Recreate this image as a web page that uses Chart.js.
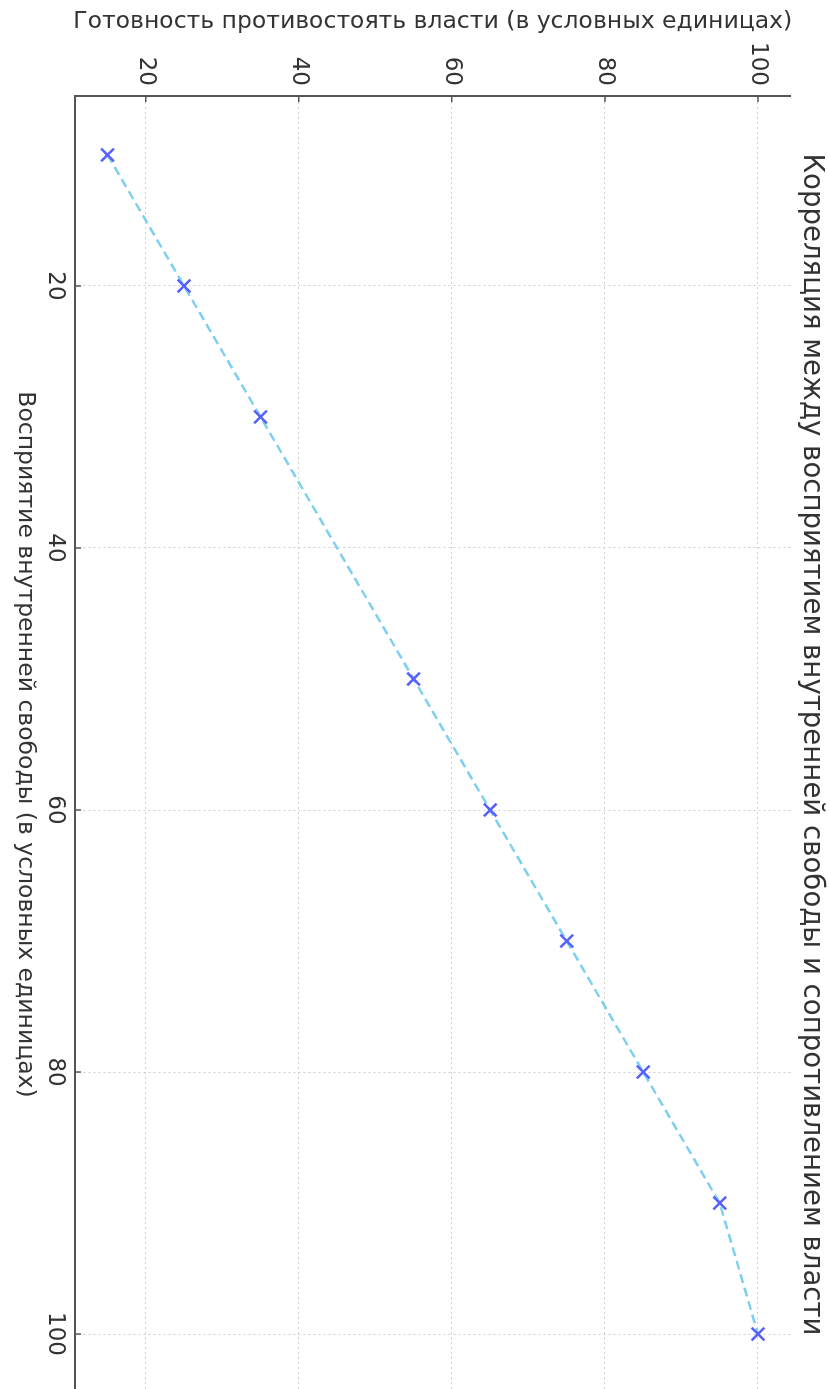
<!DOCTYPE html>
<html lang="ru">
<head>
<meta charset="utf-8">
<title>Корреляция</title>
<script src="https://cdn.jsdelivr.net/npm/chart.js@4/dist/chart.umd.min.js"></script>
<style>
    html, body { margin: 0; padding: 0; background: #fff; overflow: hidden; }
    body { width: 829px; height: 1389px; position: relative; }
    /* the reference is the matplotlib figure turned a quarter clockwise,
       cropped a few pixels before the far end of the x axis */
    #wrap {
        position: absolute; left: 0; top: 0;
        width: 1400px; height: 829px;
        transform-origin: 0 0;
        transform: translateX(829px) rotate(90deg);
    }
</style>
</head>
<body>
<div id="wrap"><canvas id="corr" width="1400" height="829"></canvas></div>
<script>
// ─── Data ─────────────────────────────────────────────

const PERCEPTION = [10, 20, 30, 50, 60, 70, 80, 90, 100];
const READINESS  = [15, 25, 35, 55, 65, 75, 85, 95, 100];
const X_TICKS    = [20, 40, 60, 80, 100];
const Y_TICKS    = [20, 40, 60, 80, 100];

const TITLE   = 'Корреляция между восприятием внутренней свободы и сопротивлением власти';
const X_LABEL = 'Восприятие внутренней свободы (в условных единицах)';
const Y_LABEL = 'Готовность противостоять власти (в условных единицах)';

// ─── Style ────────────────────────────────────────────

const FONT  = "'DejaVu Sans', sans-serif";
const SPINE = '#555';
const TEXT  = '#333';
const GRID  = '#cfcfcf';

// matplotlib-like inward tick marks
const inwardTicks = {
    id: 'inwardTicks',
    afterDraw(chart) {
        const { ctx, chartArea: a, scales: { x, y } } = chart;
        ctx.save();
        ctx.strokeStyle = SPINE;
        ctx.lineWidth = 1.5;
        ctx.beginPath();
        X_TICKS.forEach(v => {
            const px = x.getPixelForValue(v);
            ctx.moveTo(px, a.bottom);
            ctx.lineTo(px, a.bottom - 6);
        });
        Y_TICKS.forEach(v => {
            const py = y.getPixelForValue(v);
            ctx.moveTo(a.left, py);
            ctx.lineTo(a.left + 6, py);
        });
        ctx.stroke();
        ctx.restore();
    },
};

const points = PERCEPTION.map((v, i) => ({ x: v, y: READINESS[i] }));

new Chart(document.getElementById('corr').getContext('2d'), {
    type: 'line',
    data: {
        datasets: [{
            data: points,
            borderColor: '#7fcff0',
            borderWidth: 2.5,
            borderDash: [9, 5],
            pointStyle: 'crossRot',
            pointRadius: 9,
            pointBorderWidth: 2.5,
            pointBorderColor: '#5560ff',
            pointBackgroundColor: '#5560ff',
            tension: 0,
        }],
    },
    options: {
        responsive: false,
        animation: false,
        layout: { autoPadding: false, padding: { left: 0, right: 7, top: 0, bottom: 0 } },
        plugins: {
            legend: { display: false },
            tooltip: { enabled: false },
            title: {
                display: true,
                fullSize: false,
                text: TITLE,
                color: TEXT,
                font: { family: FONT, size: 27.6, weight: 'normal' },
                padding: { top: 1, bottom: 4.4 },
            },
        },
        scales: {
            x: {
                type: 'linear',
                min: 5.5,
                max: 104.5,
                afterBuildTicks: s => { s.ticks = X_TICKS.map(v => ({ value: v })); },
                afterFit: s => { s.height = 75; s.paddingLeft = 0; s.paddingRight = 0; },
                ticks: { color: TEXT, font: { family: FONT, size: 23 }, padding: 6, maxRotation: 0 },
                grid: { color: GRID, lineWidth: 1, drawTicks: false },
                border: { display: true, color: SPINE, width: 2, dash: [2, 3] },
                title: {
                    display: true,
                    text: X_LABEL,
                    color: TEXT,
                    font: { family: FONT, size: 23.5 },
                    padding: { top: 0, bottom: 11 },
                },
            },
            y: {
                type: 'linear',
                min: 10.75,
                max: 104.25,
                afterBuildTicks: s => { s.ticks = Y_TICKS.map(v => ({ value: v })); },
                afterFit: s => { s.width = 96; s.paddingTop = 0; s.paddingBottom = 0; },
                ticks: { color: TEXT, font: { family: FONT, size: 23 }, padding: 10 },
                grid: { color: GRID, lineWidth: 1, drawTicks: false },
                border: { display: true, color: SPINE, width: 2, dash: [2, 3] },
                title: {
                    display: true,
                    text: Y_LABEL,
                    color: TEXT,
                    font: { family: FONT, size: 23.5 },
                    padding: { top: 8, bottom: 0 },
                },
            },
        },
    },
    plugins: [inwardTicks],
});
</script>
</body>
</html>
